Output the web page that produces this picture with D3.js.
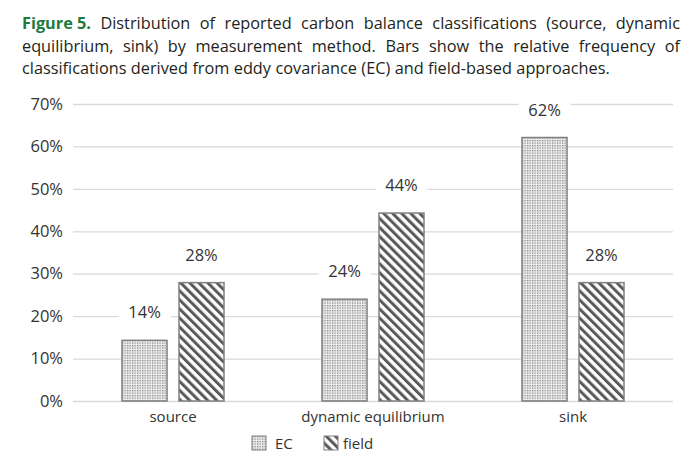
<!DOCTYPE html>
<html>
<head>
<meta charset="utf-8">
<script src="https://cdn.jsdelivr.net/npm/d3@7"></script>
<style>
  body { margin: 0; background: #fff; }
  svg { display: block; }
</style>
</head>
<body>
<div id="chart"></div>
<script>
// data
const categories = ["source", "dynamic equilibrium", "sink"];
const series = ["EC", "field"];
const ecValues = [0.143, 0.240, 0.621];
const fieldValues = [0.279, 0.443, 0.279];
const yTicks = [0, 0.1, 0.2, 0.3, 0.4, 0.5, 0.6, 0.7];

const captionLines = [
  ["Distribution of reported carbon balance classifications (source, dynamic", true],
  ["equilibrium, sink) by measurement method. Bars show the relative frequency of", true],
  ["classifications derived from eddy covariance (EC) and field-based approaches.", false]
];

const width = 700, height = 472;
const font = "'Open Sans', 'Noto Sans', sans-serif";

const svg = d3.select("#chart").append("svg")
  .attr("width", width)
  .attr("height", height);

// patterns
const defs = svg.append("defs");
const dots = defs.append("pattern")
  .attr("id", "pat-ec")
  .attr("width", 2.5).attr("height", 2.5)
  .attr("patternUnits", "userSpaceOnUse");
dots.append("rect").attr("width", 2.5).attr("height", 2.5).attr("fill", "#eeeeee");
dots.append("rect").attr("width", 1.3).attr("height", 1.3).attr("fill", "#888");

const stripes = defs.append("pattern")
  .attr("id", "pat-field")
  .attr("width", 6.4).attr("height", 6.4)
  .attr("patternUnits", "userSpaceOnUse")
  .attr("patternTransform", "rotate(-45)");
stripes.append("rect").attr("width", 6.4).attr("height", 6.4).attr("fill", "#fff");
stripes.append("rect").attr("width", 3).attr("height", 6.4).attr("fill", "#5a5a5a");

const fills = { EC: "url(#pat-ec)", field: "url(#pat-field)" };

// caption, justified word by word
const cap = svg.append("g").attr("font-family", font).attr("font-size", 16.3).attr("fill", "#231f20");
const capLeft = 22, capRight = 680;
captionLines.forEach(([line, justify], i) => {
  const yy = 29 + i * 22.5;
  const words = [];
  if (i === 0) words.push({ t: "Figure 5.", bold: true });
  line.split(" ").forEach(w => words.push({ t: w, bold: false }));
  const nodes = words.map(w => cap.append("text")
    .attr("y", yy)
    .attr("font-weight", w.bold ? "bold" : null)
    .attr("fill", w.bold ? "#1e7b3c" : null)
    .text(w.t));
  const widths = nodes.map(n => n.node().getComputedTextLength());
  const total = d3.sum(widths);
  const space = justify ? (capRight - capLeft - total) / (words.length - 1) : 4.4;
  let x = capLeft;
  nodes.forEach((n, k) => { n.attr("x", x); x += widths[k] + space; });
});

// scales
const y = d3.scaleLinear().domain([0, 0.7]).range([401, 104]);
const x0 = d3.scaleBand().domain(categories).range([73, 673]).padding(0);
const x1 = d3.scaleBand().domain(series).range([0, 102]).paddingInner(0.21);

// gridlines + y labels
const yAxis = svg.append("g")
  .attr("transform", "translate(73,0)")
  .call(d3.axisLeft(y).tickValues(yTicks).tickFormat(d3.format(".0%")).tickSize(-600).tickPadding(10));
yAxis.select(".domain").remove();
yAxis.selectAll(".tick line").attr("stroke", "#d9d9d9").attr("stroke-width", 1.3);
yAxis.selectAll(".tick text")
  .attr("font-family", font).attr("font-size", 16.5).attr("fill", "#333");

// x labels
const xAxis = svg.append("g")
  .attr("transform", "translate(0,401)")
  .call(d3.axisBottom(x0).tickSize(0).tickPadding(10));
xAxis.select(".domain").remove();
xAxis.selectAll(".tick text")
  .attr("font-family", font).attr("font-size", 15).attr("fill", "#333");

// bars
const rows = categories.map((c, i) => ({ cat: c, values: [
  { key: "EC", value: ecValues[i] },
  { key: "field", value: fieldValues[i] }
]}));

const groups = svg.append("g").selectAll("g")
  .data(rows).join("g")
  .attr("transform", d => `translate(${x0(d.cat) + x0.bandwidth() / 2 - 51},0)`);

groups.selectAll("rect.bar")
  .data(d => d.values).join("rect")
  .attr("class", "bar")
  .attr("x", d => x1(d.key))
  .attr("y", d => y(d.value))
  .attr("width", x1.bandwidth())
  .attr("height", d => y(0) - y(d.value))
  .attr("fill", d => fills[d.key])
  .attr("stroke", "#808080")
  .attr("stroke-width", 1.5);

// data labels with white boxes
const fmt = d3.format(".0%");
const labels = groups.selectAll("g.lab")
  .data(d => d.values).join("g")
  .attr("class", "lab")
  .attr("transform", d => `translate(${x1(d.key) + x1.bandwidth() / 2},${y(d.value) - 22})`);
labels.append("rect")
  .attr("x", -26).attr("y", -17).attr("width", 52).attr("height", 24)
  .attr("fill", "#fff");
labels.append("text")
  .attr("text-anchor", "middle")
  .attr("font-family", font).attr("font-size", 16.5).attr("fill", "#333")
  .text(d => fmt(d.value));

// legend
const legend = svg.append("g").attr("font-family", font).attr("font-size", 15).attr("fill", "#333");
const legendX = { EC: 252, field: 324 };
series.forEach(s => {
  const g = legend.append("g").attr("transform", `translate(${legendX[s]},436)`);
  g.append("rect").attr("width", 14).attr("height", 14)
    .attr("fill", fills[s]).attr("stroke", "#808080").attr("stroke-width", 1);
  g.append("text").attr("x", s === "EC" ? 23 : 19).attr("y", 12.5).text(s);
});
</script>
</body>
</html>
